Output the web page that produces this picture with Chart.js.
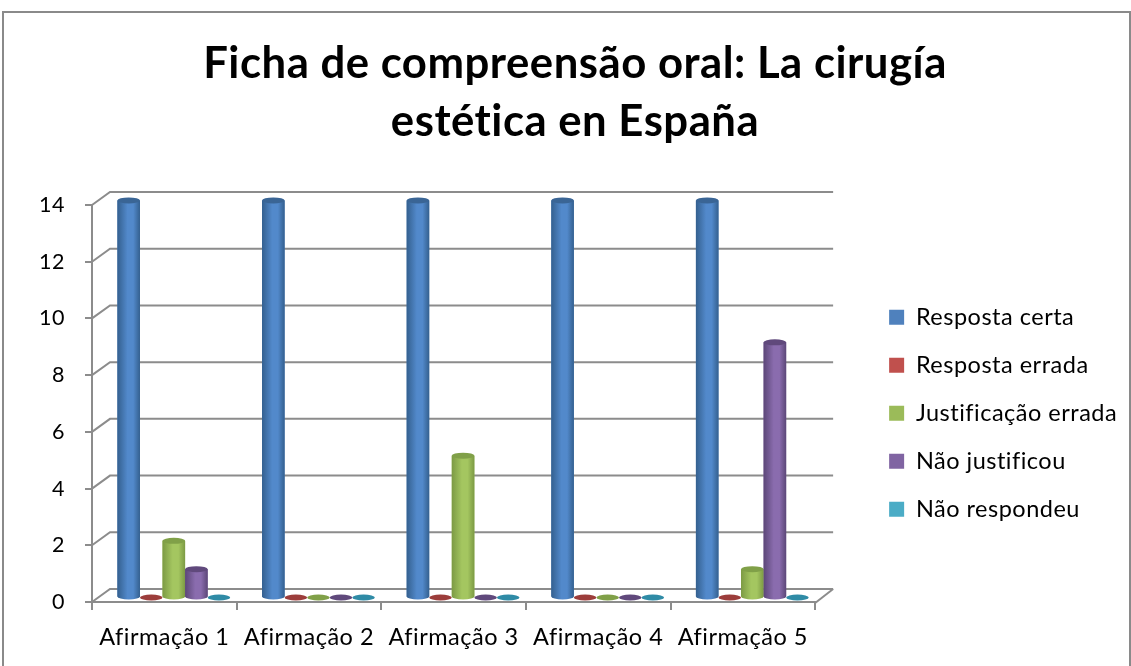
<!DOCTYPE html>
<html>
<head>
<meta charset="utf-8">
<style>
html, body { margin: 0; padding: 0; background: #fff; }
canvas { display: block; }
</style>
<script src="https://cdn.jsdelivr.net/npm/chart.js@4"></script>
</head>
<body>
<canvas id="grafico" width="1131" height="666"></canvas>
<script>
const categories = ['Afirmação 1', 'Afirmação 2', 'Afirmação 3', 'Afirmação 4', 'Afirmação 5'];
const respostaCerta = [14, 14, 14, 14, 14];
const respostaErrada = [0, 0, 0, 0, 0];
const justificacaoErrada = [2, 0, 5, 0, 1];
const naoJustificou = [1, 0, 0, 0, 9];
const naoRespondeu = [0, 0, 0, 0, 0];

const titleLines = ['Ficha de compreensão oral: La cirugía', 'estética en España'];

// edge, middle, top disc
const shades = [
    ['#34608f', '#5289cb', '#3a6595'],
    ['#8e3634', '#c0504d', '#9c3d3b'],
    ['#7c9a44', '#a4c660', '#80a048'],
    ['#5c4778', '#8a6cae', '#60497c'],
    ['#2a8098', '#4bacc6', '#2f8ba6']
];

const gridColor = '#8c8c8c';
const depthX = 18;
const depthY = -13;

// the room behind the bars: outer frame, back wall lines and the floor
const room = {
    id: 'room',
    beforeUpdate(chart) {
        chart.ctx.letterSpacing = '0.5px';
    },
    beforeDatasetsDraw(chart) {
        const c = chart.ctx;
        const y = chart.scales.y;
        const left = chart.chartArea.left;
        const right = chart.chartArea.right;

        c.save();
        c.strokeStyle = gridColor;
        c.lineWidth = 2;
        y.ticks.forEach(t => {
            const py = y.getPixelForValue(t.value);
            c.beginPath();
            c.moveTo(left, py);
            c.lineTo(left + depthX, py + depthY);
            c.lineTo(right + depthX, py + depthY);
            c.stroke();
        });
        const floor = y.getPixelForValue(0);
        c.beginPath();
        c.moveTo(right, floor + 1);
        c.lineTo(right + depthX, floor + depthY);
        c.stroke();
        c.restore();

        // bars stand in the middle of the floor
        c.save();
        c.translate(9.5, -4.5);
    },
    afterDatasetsDraw(chart) {
        const c = chart.ctx;
        chart.data.datasets.forEach((ds, i) => {
            chart.getDatasetMeta(i).data.forEach(bar => {
                const rx = bar.width / 2;
                const ry = 3;
                const s = shades[i];
                if (bar.base - bar.y > 0.5) {
                    const g = c.createLinearGradient(bar.x - rx, 0, bar.x + rx, 0);
                    g.addColorStop(0, s[0]);
                    g.addColorStop(0.45, s[1]);
                    g.addColorStop(0.7, s[1]);
                    g.addColorStop(1, s[0]);
                    c.fillStyle = g;
                    c.beginPath();
                    c.moveTo(bar.x - rx, bar.y);
                    c.lineTo(bar.x - rx, bar.base);
                    c.ellipse(bar.x, bar.base, rx, ry, 0, Math.PI, 0, true);
                    c.lineTo(bar.x + rx, bar.y);
                    c.closePath();
                    c.fill();
                }
                c.fillStyle = s[2];
                c.beginPath();
                c.ellipse(bar.x, bar.y, rx, ry, 0, 0, Math.PI * 2);
                c.fill();
            });
        });
        c.restore();
    },
    beforeDraw(chart) {
        const c = chart.ctx;
        c.save();
        c.strokeStyle = '#8a8a8a';
        c.lineWidth = 2;
        c.beginPath();
        c.moveTo(3, 670);
        c.lineTo(3, 12);
        c.lineTo(1130, 12);
        c.lineTo(1130, 670);
        c.stroke();
        c.restore();
    }
};

const barOptions = { categoryPercentage: 0.78, barPercentage: 1, borderWidth: 0, clip: false };

new Chart(document.getElementById('grafico').getContext('2d'), {
    type: 'bar',
    data: {
        labels: categories,
        datasets: [
            { label: 'Resposta certa', data: respostaCerta, backgroundColor: '#4f81bd', ...barOptions },
            { label: 'Resposta errada', data: respostaErrada, backgroundColor: '#c0504d', ...barOptions },
            { label: 'Justificação errada', data: justificacaoErrada, backgroundColor: '#9bbb59', ...barOptions },
            { label: 'Não justificou', data: naoJustificou, backgroundColor: '#8064a2', ...barOptions },
            { label: 'Não respondeu', data: naoRespondeu, backgroundColor: '#4bacc6', ...barOptions }
        ]
    },
    plugins: [room],
    options: {
        responsive: false,
        animation: false,
        layout: { padding: { left: 22.8, right: 3.8, top: 18, bottom: 0 } },
        plugins: {
            tooltip: { enabled: false },
            title: {
                display: true,
                text: titleLines,
                color: '#000',
                font: { family: 'Lato', size: 43.7, weight: 'bold', lineHeight: 1.327 },
                padding: { top: 17, bottom: 54 }
            },
            legend: {
                position: 'right',
                align: 'start',
                maxWidth: 263,
                title: { display: true, text: '', padding: { top: 248.5, bottom: 0 } },
                labels: {
                    boxWidth: 15,
                    boxHeight: 15,
                    padding: 24.5,
                    color: '#000',
                    font: { family: 'Lato', size: 23.5 }
                }
            }
        },
        scales: {
            x: {
                afterFit(s) { s.height = 64; },
                grid: { drawOnChartArea: false, tickLength: 8, color: gridColor, lineWidth: 2 },
                border: { color: gridColor, width: 2 },
                ticks: { color: '#000', padding: 13, maxRotation: 0, font: { family: 'Lato', size: 23.5 } }
            },
            y: {
                min: 0,
                max: 14,
                afterFit(s) { s.width = 69.2; },
                grid: { drawOnChartArea: false, tickLength: 7, color: gridColor, lineWidth: 2 },
                border: { color: gridColor, width: 2 },
                ticks: { stepSize: 2, color: '#000', padding: 20, font: { family: 'Lato', size: 21.5 } }
            },
            // only keeps the gap between the floor and the legend
            gap: {
                position: 'right',
                afterFit(s) { s.width = 49.5; },
                grid: { display: false },
                border: { display: false },
                ticks: { display: false }
            }
        }
    }
});
</script>
</body>
</html>
